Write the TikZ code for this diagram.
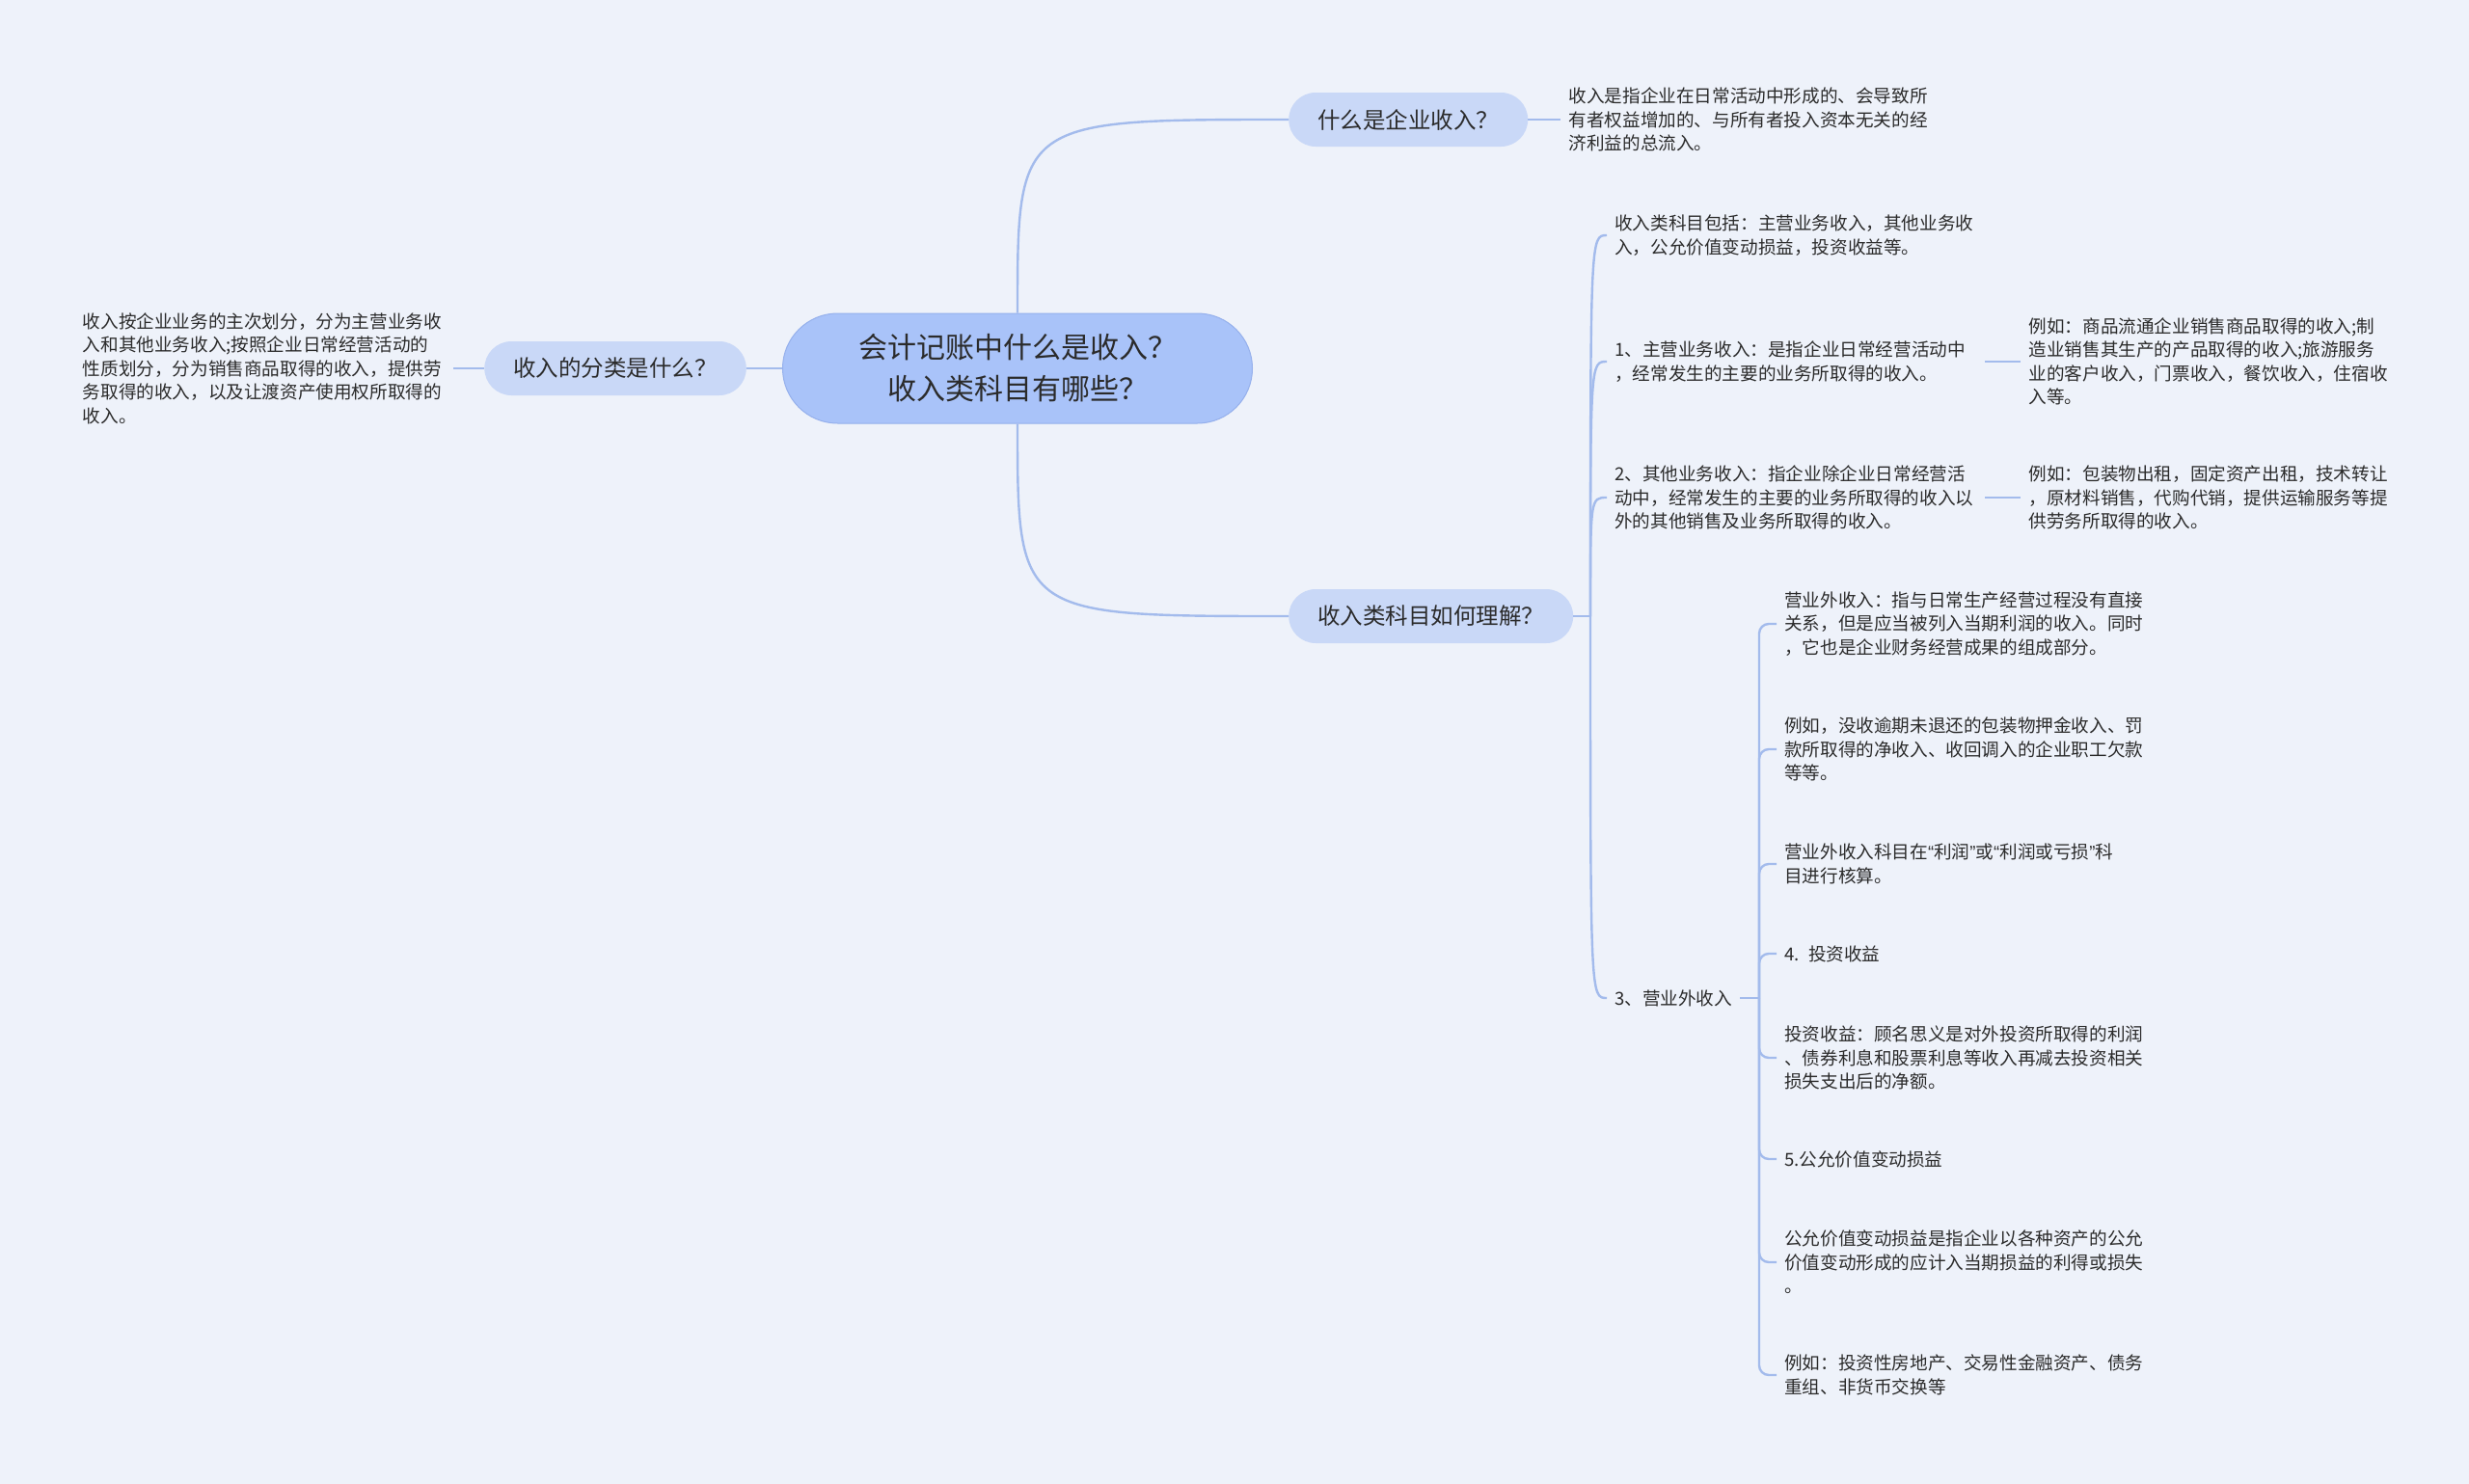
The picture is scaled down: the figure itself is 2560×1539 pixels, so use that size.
\documentclass[tikz,border=0pt]{standalone}
\usepackage{fontspec}
\setmainfont{Noto Sans CJK SC}
\newfontfamily\latinq{Liberation Sans}
\usetikzlibrary{positioning}
\definecolor{mmBg}{HTML}{EEF2FA}
\definecolor{mmRoot}{HTML}{A9C3F9}
\definecolor{mmRootD}{HTML}{95B0EC}
\definecolor{mmTopic}{HTML}{C9D8F7}
\definecolor{mmLine}{HTML}{A3BBEC}
\definecolor{mmText}{HTML}{2B2B2B}
\newcommand\mmq[1]{{\latinq #1}}
\tikzset{
  mm-root/.style={
    draw=mmRootD, line width=1pt, fill=mmRoot, rounded corners=57pt,
    minimum width=487pt, minimum height=114pt, align=center,
    font=\fontsize{30}{43}\selectfont, text=mmText
  },
  mm-topic/.style={
    fill=mmTopic, rounded corners=28pt, minimum height=56pt,
    inner xsep=30pt, font=\fontsize{23.5}{28}\selectfont, text=mmText
  },
  mm-leaf/.style={inner xsep=8pt, inner ysep=2pt, align=left,
    font=\fontsize{18.6}{24.5}\selectfont, text=mmText},
  mm-note/.style={mm-leaf, text width=376pt},
  mm-line/.style={draw=mmLine, line width=2.4pt},
  mm-elbow/.style={mm-line, rounded corners=10pt}
}

\begin{document}
\begin{tikzpicture}[x=1pt, y=-1pt]
\fill[mmBg] (0,0) rectangle (2560,1539);
\useasboundingbox (0,0) rectangle (2560,1539);

% --- root ---
\node[mm-root] (root) at (1055,382) {会计记账中什么是收入？\\收入类科目有哪些？};

% --- topics ---
\node[mm-topic, anchor=west] (what) at (1336,124) {什么是企业收入？};
\node[mm-topic, anchor=east] (kind) at (774,382) {收入的分类是什么？};
\node[mm-topic, anchor=west] (howto) at (1336,639) {收入类科目如何理解？};

\node[mm-note, right=34pt of what] (whatnote)
  {收入是指企业在日常活动中形成的、会导致所\\有者权益增加的、与所有者投入资本无关的经\\济利益的总流入。};
\node[mm-note, anchor=east] (kindnote) at (470,382)
  {收入按企业业务的主次划分，分为主营业务收\\入和其他业务收入;按照企业日常经营活动的\\性质划分，分为销售商品取得的收入，提供劳\\务取得的收入，以及让渡资产使用权所取得的\\收入。};

% --- howto branches ---
\coordinate (jb) at (1649,639);
\node[mm-note, anchor=west] (incl) at (1666,244)
  {收入类科目包括：主营业务收入，其他业务收\\入，公允价值变动损益，投资收益等。};
\node[mm-note, anchor=west] (main) at (1666,375)
  {1、主营业务收入：是指企业日常经营活动中\\，经常发生的主要的业务所取得的收入。};
\node[mm-note, anchor=west] (other) at (1666,516)
  {2、其他业务收入：指企业除企业日常经营活\\动中，经常发生的主要的业务所取得的收入以\\外的其他销售及业务所取得的收入。};
\node[mm-leaf, anchor=west] (nonop) at (1666,1035) {3、营业外收入};

\node[mm-note, right=37pt of main] (mainex)
  {例如：商品流通企业销售商品取得的收入;制\\造业销售其生产的产品取得的收入;旅游服务\\业的客户收入，门票收入，餐饮收入，住宿收\\入等。};
\node[mm-note, right=37pt of other] (otherex)
  {例如：包装物出租，固定资产出租，技术转让\\，原材料销售，代购代销，提供运输服务等提\\供劳务所取得的收入。};

% --- non-operating income ---
\coordinate (jc) at (1824,1035);
\node[mm-note, anchor=west] (n1) at (1842,647)
  {营业外收入：指与日常生产经营过程没有直接\\关系，但是应当被列入当期利润的收入。同时\\，它也是企业财务经营成果的组成部分。};
\node[mm-note, anchor=west] (n2) at (1842,777)
  {例如，没收逾期未退还的包装物押金收入、罚\\款所取得的净收入、收回调入的企业职工欠款\\等等。};
\node[mm-note, anchor=west] (n3) at (1842,896)
  {营业外收入科目在\mmq{“}利润\mmq{”}或\mmq{“}利润或亏损\mmq{”}科\\目进行核算。};
\node[mm-note, anchor=west] (n4) at (1842,989) {4. 投资收益};
\node[mm-note, anchor=west] (n5) at (1842,1097)
  {投资收益：顾名思义是对外投资所取得的利润\\、债券利息和股票利息等收入再减去投资相关\\损失支出后的净额。};
\node[mm-note, anchor=west] (n6) at (1842,1202) {5.公允价值变动损益};
\node[mm-note, anchor=west] (n7) at (1842,1309)
  {公允价值变动损益是指企业以各种资产的公允\\价值变动形成的应计入当期损益的利得或损失\\。};
\node[mm-note, anchor=west] (n8) at (1842,1426)
  {例如：投资性房地产、交易性金融资产、债务\\重组、非货币交换等};

% --- connectors ---
\draw[mm-line] (root.north) .. controls (root.north |- what) .. (what.west);
\draw[mm-line] (root.south) .. controls (root.south |- howto) .. (howto.west);
\draw[mm-line] (root.west) -- (kind.east);
\draw[mm-line] (what.east) -- (whatnote.west);
\draw[mm-line] (kind.west) -- (kindnote.east);
\draw[mm-line] (howto.east) -- (jb);
\foreach \n in {incl,main,other,nonop}
  \draw[mm-line] (jb) .. controls (jb |- \n) .. (\n.west);
\draw[mm-line] (main.east) -- (mainex.west);
\draw[mm-line] (other.east) -- (otherex.west);
\draw[mm-line] (nonop.east) -- (jc);
\foreach \n in {n1,n2,n3,n4,n5,n6,n7,n8}
  \draw[mm-elbow] (jc) |- (\n.west);
\end{tikzpicture}
\end{document}
